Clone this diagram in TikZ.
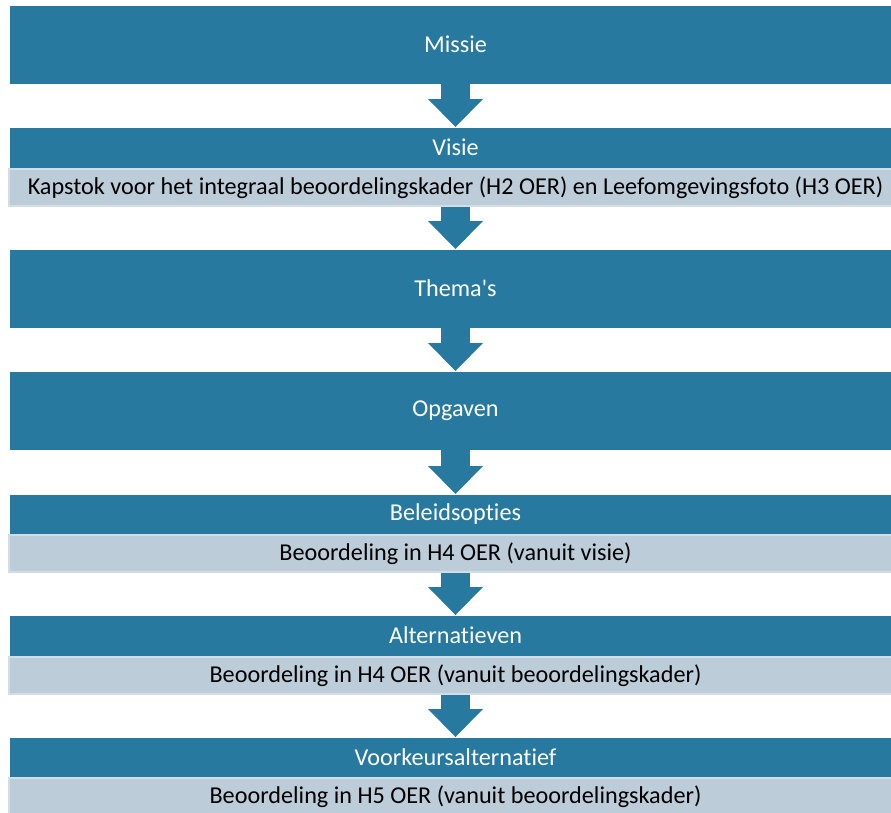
\documentclass[tikz,border=0pt]{standalone}
\usepackage{fontspec}
\setmainfont{Carlito}[Ligatures=NoCommon]
\usepackage{tikz}
\usetikzlibrary{arrows.meta,positioning}
\definecolor{stepblue}{RGB}{39,121,160}
\definecolor{noteblue}{RGB}{188,205,217}
\definecolor{noteedge}{RGB}{210,221,230}

\begin{document}
\begin{tikzpicture}[x=1pt,y=-1pt]
    \tikzstyle{stage}=[
      rectangle,
      anchor=north west,
      fill=stepblue,
      draw=stepblue,
      text=white,
      minimum width=891pt,
      inner sep=0pt,
      outer sep=0pt,
      font=\fontsize{24.2}{28}\selectfont,
    ]
    \tikzstyle{tallstage}=[stage, minimum height=77pt]
    \tikzstyle{lowstage}=[stage, minimum height=39pt]
    \tikzstyle{note}=[
      stage,
      fill=noteblue,
      draw=noteedge,
      line width=2pt,
      text=black,
      minimum width=893pt,
      minimum height=37pt,
    ]
    \tikzstyle{flow}=[line width=29pt, draw=stepblue, -{Triangle[length=28pt,width=55pt,line width=0pt]}]

    \useasboundingbox (0,0) rectangle (891,812);
    \coordinate (topAnchor) at (10,6);
    \coordinate (axis) at (455.5,0);

    % stages
    {
      \node[tallstage] (missie) at ([xshift=0pt, yshift=0pt] topAnchor) {Missie};
      \node[lowstage] (visie) at ([xshift=0pt, yshift=-122pt] topAnchor) {Visie};
      \node[note] (kapstok) at ([xshift=-1pt, yshift=-163pt] topAnchor) {Kapstok voor het integraal beoordelingskader (H2 OER) en Leefomgevingsfoto (H3 OER)};
      \node[tallstage] (themas) at ([xshift=0pt, yshift=-244pt] topAnchor) {Thema\textquotesingle s};
      \node[tallstage] (opgaven) at ([xshift=0pt, yshift=-366pt] topAnchor) {Opgaven};
      \node[lowstage] (beleid) at ([xshift=0pt, yshift=-489pt] topAnchor) {Beleidsopties};
      \node[note] (beleidnote) at ([xshift=-1pt, yshift=-529pt] topAnchor) {Beoordeling in H4 OER (vanuit visie)};
      \node[lowstage] (alternatief) at ([xshift=0pt, yshift=-610pt] topAnchor) {Alternatieven};
      \node[note] (alternatiefnote) at ([xshift=-1pt, yshift=-651pt] topAnchor) {Beoordeling in H4 OER (vanuit beoordelingskader)};
      \node[lowstage] (voorkeur) at ([xshift=0pt, yshift=-732pt] topAnchor) {Voorkeursalternatief};
      \node[note] (voorkeurnote) at ([xshift=-1pt, yshift=-772pt] topAnchor) {Beoordeling in H5 OER (vanuit beoordelingskader)};
    }

    % arrows
    {
      \draw[flow] (missie.south -| axis)--([yshift=1pt] visie.north -| axis);
      \draw[flow] ([yshift=-1pt] kapstok.south -| axis)--([yshift=1pt] themas.north -| axis);
      \draw[flow] (themas.south -| axis)--([yshift=1pt] opgaven.north -| axis);
      \draw[flow] (opgaven.south -| axis)--([yshift=1pt] beleid.north -| axis);
      \draw[flow] ([yshift=-1pt] beleidnote.south -| axis)--([yshift=1pt] alternatief.north -| axis);
      \draw[flow] ([yshift=-1pt] alternatiefnote.south -| axis)--([yshift=1pt] voorkeur.north -| axis);
    }
\end{tikzpicture}
\end{document}
